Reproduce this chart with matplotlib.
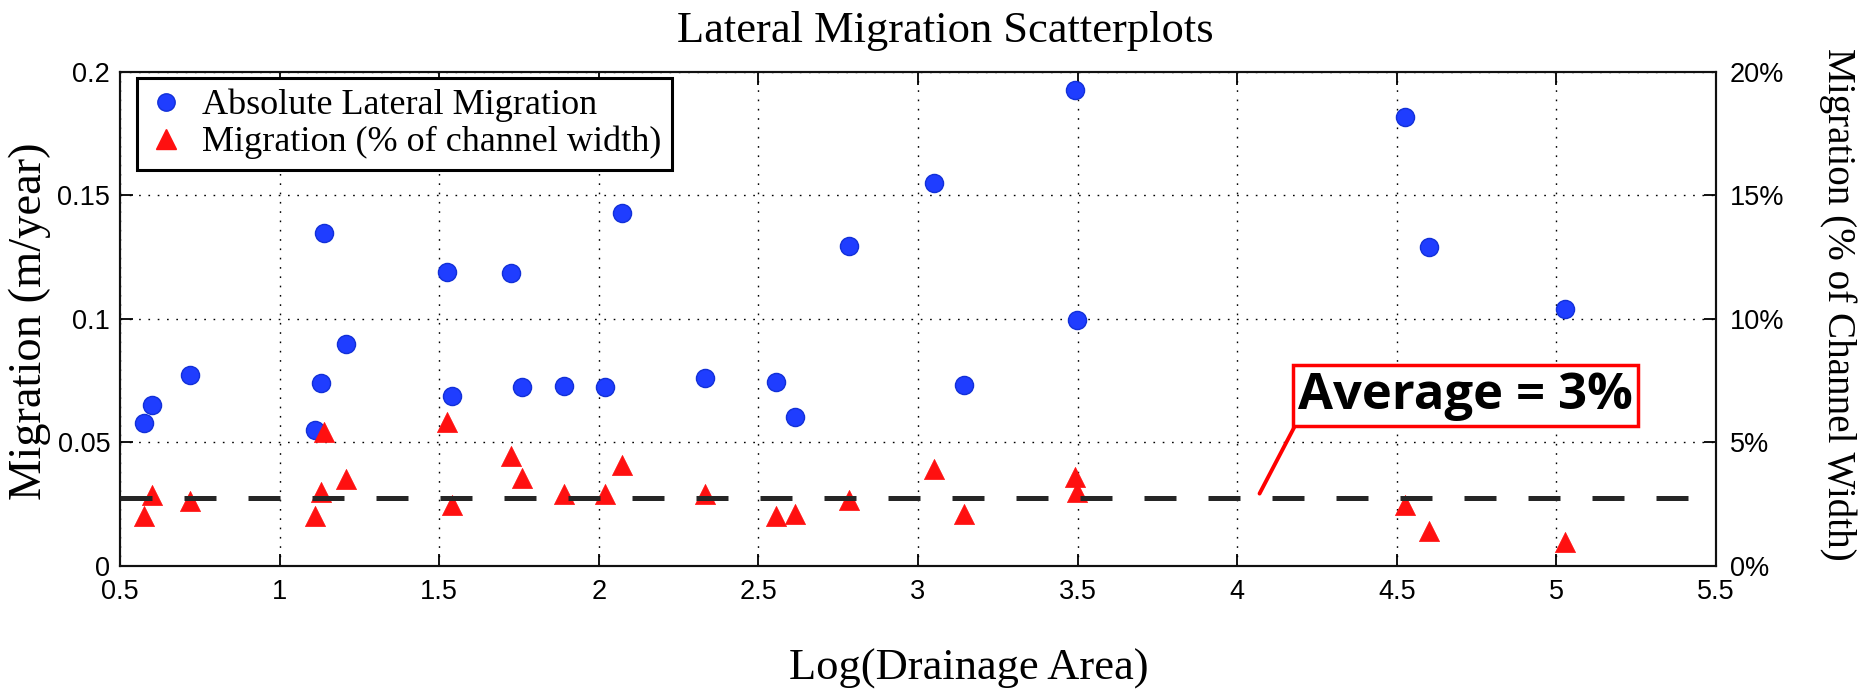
import matplotlib
matplotlib.use("Agg")
import matplotlib.pyplot as plt
from matplotlib.lines import Line2D

# ---- data ----
log_area = [0.576, 0.599, 0.718, 1.112, 1.131, 1.138, 1.207, 1.526, 1.541, 1.725,
            1.760, 1.891, 2.019, 2.074, 2.334, 2.555, 2.615, 2.785, 3.051, 3.145,
            3.492, 3.498, 4.525, 4.600, 5.026]
abs_migration = [0.0580, 0.0652, 0.0772, 0.0549, 0.0742, 0.1349, 0.0898, 0.1191, 0.0689, 0.1187,
                 0.0726, 0.0728, 0.0723, 0.1430, 0.0760, 0.0746, 0.0603, 0.1295, 0.1551, 0.0733,
                 0.1927, 0.0996, 0.1819, 0.1292, 0.1042]
pct_migration = [2.04, 2.87, 2.64, 2.04, 3.01, 5.42, 3.51, 5.83, 2.45, 4.46,
                 3.58, 2.90, 2.91, 4.10, 2.93, 2.02, 2.09, 2.67, 3.92, 2.10,
                 3.59, 3.00, 2.48, 1.40, 0.96]
average_line_pct = 2.74
average_label = "Average = 3%"
annot_point = (4.07, 2.93)
annot_text_pos = (4.714, 6.9)

x_ticks = [0.5, 1, 1.5, 2, 2.5, 3, 3.5, 4, 4.5, 5, 5.5]
x_ticklabels = ["0.5", "1", "1.5", "2", "2.5", "3", "3.5", "4", "4.5", "5", "5.5"]
left_ticks = [0, 0.05, 0.1, 0.15, 0.2]
left_ticklabels = ["0", "0.05", "0.1", "0.15", "0.2"]
right_ticks = [0, 5, 10, 15, 20]
right_ticklabels = ["0%", "5%", "10%", "15%", "20%"]

title = "Lateral Migration Scatterplots"
xlabel = "Log(Drainage Area)"
ylabel_left = "Migration (m/year)"
ylabel_right = "Migration (% of Channel Width)"
legend_labels = ["Absolute Lateral Migration", "Migration (% of channel width)"]

# ---- styling ----
SERIF = ["Liberation Serif", "DejaVu Serif"]
SANS = ["Liberation Sans", "DejaVu Sans"]
BLUE = "#1f3dff"
BLUE_EDGE = "#1230d8"
RED = "#ff1010"

fig = plt.figure(figsize=(18.62, 6.93), dpi=100)
ax = fig.add_axes([0.0644, 0.1833, 0.8572, 0.7128])
ax2 = ax.twinx()

ax.set_xlim(0.5, 5.5)
ax.set_ylim(0, 0.2)
ax2.set_ylim(0, 20)

ax.scatter(log_area, abs_migration, s=170, color=BLUE, edgecolors=BLUE_EDGE,
           linewidths=1.0, zorder=3, clip_on=False)
ax2.scatter(log_area, pct_migration, s=210, marker="^", color=RED, edgecolors=RED,
            linewidths=0.5, zorder=3)
ax2.axhline(average_line_pct, color="#262626", lw=3.6, dashes=(6.4, 6.4), zorder=4)

ax.set_xticks(x_ticks)
ax.set_xticklabels(x_ticklabels)
ax.set_yticks(left_ticks)
ax.set_yticklabels(left_ticklabels)
ax2.set_yticks(right_ticks)
ax2.set_yticklabels(right_ticklabels)

for a in (ax, ax2):
    for lab in a.get_xticklabels() + a.get_yticklabels():
        lab.set_family(SANS)
        lab.set_fontsize(19.5)
    for sp in a.spines.values():
        sp.set_linewidth(1.5)
        sp.set_color("#111111")

ax.tick_params(axis="x", direction="in", length=9, width=1.3, top=True, bottom=True, pad=9.5)
ax.tick_params(axis="y", direction="in", length=9, width=1.3, left=True, right=False, pad=7)
ax2.tick_params(axis="y", direction="in", length=9, width=1.3, right=True, pad=10)

ax.grid(True, color="black", linestyle=(0, (1.2, 5.5)), linewidth=1.0)
ax.set_axisbelow(True)

# title placed as figure text (reference title sits slightly right of axes centre)
fig.text(0.5076, 0.955, title, family=SERIF, fontsize=32, ha="center", va="center")

xl = ax.set_xlabel(xlabel, family=SERIF, fontsize=32)
ax.xaxis.set_label_coords(0.532, -0.2085)
xl.set_va("center")

yl = ax.set_ylabel(ylabel_left, family=SERIF, fontsize=33.5)
ax.yaxis.set_label_coords(-0.0564, 0.496)
yl.set_va("center")

yr = ax2.set_ylabel(ylabel_right, family=SERIF, fontsize=28.2, rotation=270)
ax2.yaxis.set_label_coords(1.0764, 0.53)
yr.set_va("center")

handles = [
    Line2D([], [], marker="o", linestyle="none", markersize=12.5, markerfacecolor=BLUE,
           markeredgecolor=BLUE_EDGE),
    Line2D([], [], marker="^", linestyle="none", markersize=14, markerfacecolor=RED,
           markeredgecolor=RED),
]
leg = ax2.legend(handles, legend_labels, loc="upper left", bbox_to_anchor=(0.0107, 0.988),
                 borderaxespad=0, fancybox=False, framealpha=1, edgecolor="black",
                 prop={"family": SERIF, "size": 26}, handletextpad=0.5, labelspacing=0.1,
                 borderpad=0.3, handlelength=1.0)
leg.get_frame().set_linewidth(2.2)
leg.set_zorder(10)

ax2.annotate(average_label, xy=annot_point, xytext=annot_text_pos,
             ha="center", va="center", fontsize=36.5, fontweight="bold",
             family=["Open Sans", "DejaVu Sans"], color="black",
             bbox=dict(boxstyle="square,pad=0.1", fc="white", ec="red", lw=2.5),
             arrowprops=dict(arrowstyle="-", color="red", lw=2.8, relpos=(0, 0),
                             shrinkA=0, shrinkB=0),
             zorder=6)

fig.savefig("out.png", dpi=100)
